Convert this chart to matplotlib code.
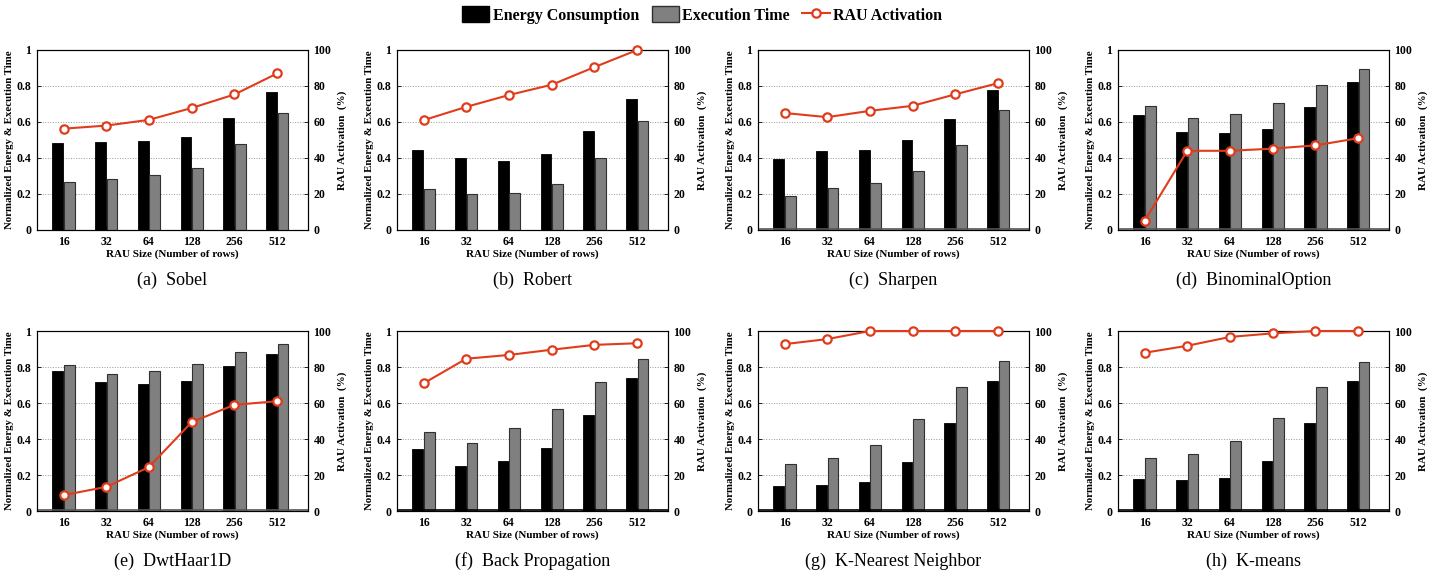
import matplotlib
matplotlib.use('Agg')
import matplotlib.pyplot as plt
from matplotlib.patches import Patch
from matplotlib.lines import Line2D
import numpy as np

plt.rcParams['font.family'] = ['Liberation Serif', 'DejaVu Serif']

rau_sizes = ['16', '32', '64', '128', '256', '512']

titles = ['(a)  Sobel', '(b)  Robert', '(c)  Sharpen', '(d)  BinominalOption',
          '(e)  DwtHaar1D', '(f)  Back Propagation', '(g)  K-Nearest Neighbor', '(h)  K-means']

energy_sobel = [0.483, 0.489, 0.494, 0.515, 0.625, 0.764]
exec_sobel = [0.268, 0.281, 0.307, 0.346, 0.48, 0.652]
rau_sobel = [56.3, 58, 61.2, 67.8, 75.3, 87]

energy_robert = [0.444, 0.40, 0.381, 0.422, 0.55, 0.729]
exec_robert = [0.23, 0.20, 0.204, 0.256, 0.398, 0.608]
rau_robert = [61, 68.4, 75, 80.7, 90.5, 100]

energy_sharpen = [0.397, 0.44, 0.445, 0.498, 0.618, 0.776]
exec_sharpen = [0.191, 0.235, 0.26, 0.33, 0.472, 0.667]
rau_sharpen = [65, 62.7, 66.2, 69, 75.4, 81.6]

energy_binom = [0.638, 0.544, 0.54, 0.563, 0.684, 0.822]
exec_binom = [0.688, 0.623, 0.647, 0.708, 0.807, 0.892]
rau_binom = [5, 44, 44, 45.2, 47, 51]

energy_dwt = [0.778, 0.714, 0.708, 0.725, 0.804, 0.875]
exec_dwt = [0.809, 0.763, 0.78, 0.815, 0.881, 0.927]
rau_dwt = [8.8, 13.4, 24.4, 49.4, 59, 61]

energy_bp = [0.345, 0.248, 0.278, 0.352, 0.535, 0.741]
exec_bp = [0.438, 0.379, 0.461, 0.566, 0.718, 0.844]
rau_bp = [70.9, 84.6, 86.7, 89.6, 92.3, 93.2]

energy_knn = [0.138, 0.145, 0.161, 0.27, 0.49, 0.72]
exec_knn = [0.26, 0.294, 0.368, 0.512, 0.69, 0.831]
rau_knn = [92.7, 95.5, 100, 100, 100, 100]

energy_kmeans = [0.179, 0.175, 0.185, 0.278, 0.49, 0.72]
exec_kmeans = [0.294, 0.318, 0.389, 0.514, 0.687, 0.828]
rau_kmeans = [87.9, 91.8, 96.7, 98.7, 100, 100]

energy = [energy_sobel, energy_robert, energy_sharpen, energy_binom,
          energy_dwt, energy_bp, energy_knn, energy_kmeans]
exec_time = [exec_sobel, exec_robert, exec_sharpen, exec_binom,
             exec_dwt, exec_bp, exec_knn, exec_kmeans]
rau_act = [rau_sobel, rau_robert, rau_sharpen, rau_binom,
           rau_dwt, rau_bp, rau_knn, rau_kmeans]

RED = '#e03c1c'
GRAY = '#808080'

W, H = 1441, 580
fig = plt.figure(figsize=(W / 100, H / 100), dpi=100)

col_left = [37, 397, 758, 1118]
row_top = [50, 331]
ax_w, ax_h = 271, 180

x = np.arange(len(rau_sizes))
bw = 0.25

for i in range(8):
    r, c = divmod(i, 4)
    l = col_left[c] / W
    b = 1 - (row_top[r] + ax_h) / H
    ax = fig.add_axes([l, b, ax_w / W, ax_h / H])
    ax.bar(x - 0.135, energy[i], bw, color='black', edgecolor='black', lw=0.6, zorder=3)
    ax.bar(x + 0.135, exec_time[i], bw, color=GRAY, edgecolor='#303030', lw=0.8, zorder=3)
    ax.set_xlim(-0.62, 5.72)
    ax.set_ylim(0, 1)
    ax.set_yticks([0, 0.2, 0.4, 0.6, 0.8, 1])
    ax.set_yticklabels(['0', '0.2', '0.4', '0.6', '0.8', '1'])
    ax.set_xticks(x)
    ax.set_xticklabels(rau_sizes)
    ax.grid(axis='y', linestyle=':', color='#999999', lw=0.7, zorder=0)
    if i >= 2:
        ax.axhline(0.006, color='#555555' if i < 5 else 'black', lw=1.2, zorder=4)
    ax.tick_params(direction='in', labelsize=8.5, length=3, width=0.6, pad=4)
    for t in ax.get_xticklabels() + ax.get_yticklabels():
        t.set_fontweight('bold')
    ax.set_xlabel('RAU Size (Number of rows)', fontsize=8, fontweight='bold', labelpad=1)
    ax.set_ylabel('Normalized Energy & Execution Time', fontsize=7.8, fontweight='bold', labelpad=2)
    for s in ax.spines.values():
        s.set_linewidth(0.8)

    ax2 = ax.twinx()
    ax2.plot(x, rau_act[i], '-o', color=RED, lw=1.5, ms=6, mfc='white', mec=RED, mew=1.6, zorder=5,
             clip_on=False)
    ax2.set_ylim(0, 100)
    ax2.set_yticks([0, 20, 40, 60, 80, 100])
    ax2.tick_params(direction='in', labelsize=8.5, length=3, width=0.6, pad=4)
    for t in ax2.get_yticklabels():
        t.set_fontweight('bold')
    ax2.set_ylabel('RAU Activation  (%)', fontsize=8, fontweight='bold', labelpad=4)

    fig.text(l + ax_w / W / 2, 1 - (row_top[r] + ax_h + 50) / H, titles[i],
             ha='center', va='center', fontsize=13)

handles = [Patch(facecolor='black', edgecolor='black'),
           Patch(facecolor=GRAY, edgecolor='#303030'),
           Line2D([], [], color=RED, marker='o', mfc='white', mec=RED, lw=1.5, ms=6, mew=1.6)]
fig.legend(handles, ['Energy Consumption', 'Execution Time', 'RAU Activation'],
           loc='center', bbox_to_anchor=(702 / W, 1 - 15 / H), ncol=3, frameon=False,
           prop={'weight': 'bold', 'size': 11.5}, handlelength=1.7, handleheight=1.1,
           handletextpad=0.2, columnspacing=0.8)

fig.savefig('out.png', dpi=100)
